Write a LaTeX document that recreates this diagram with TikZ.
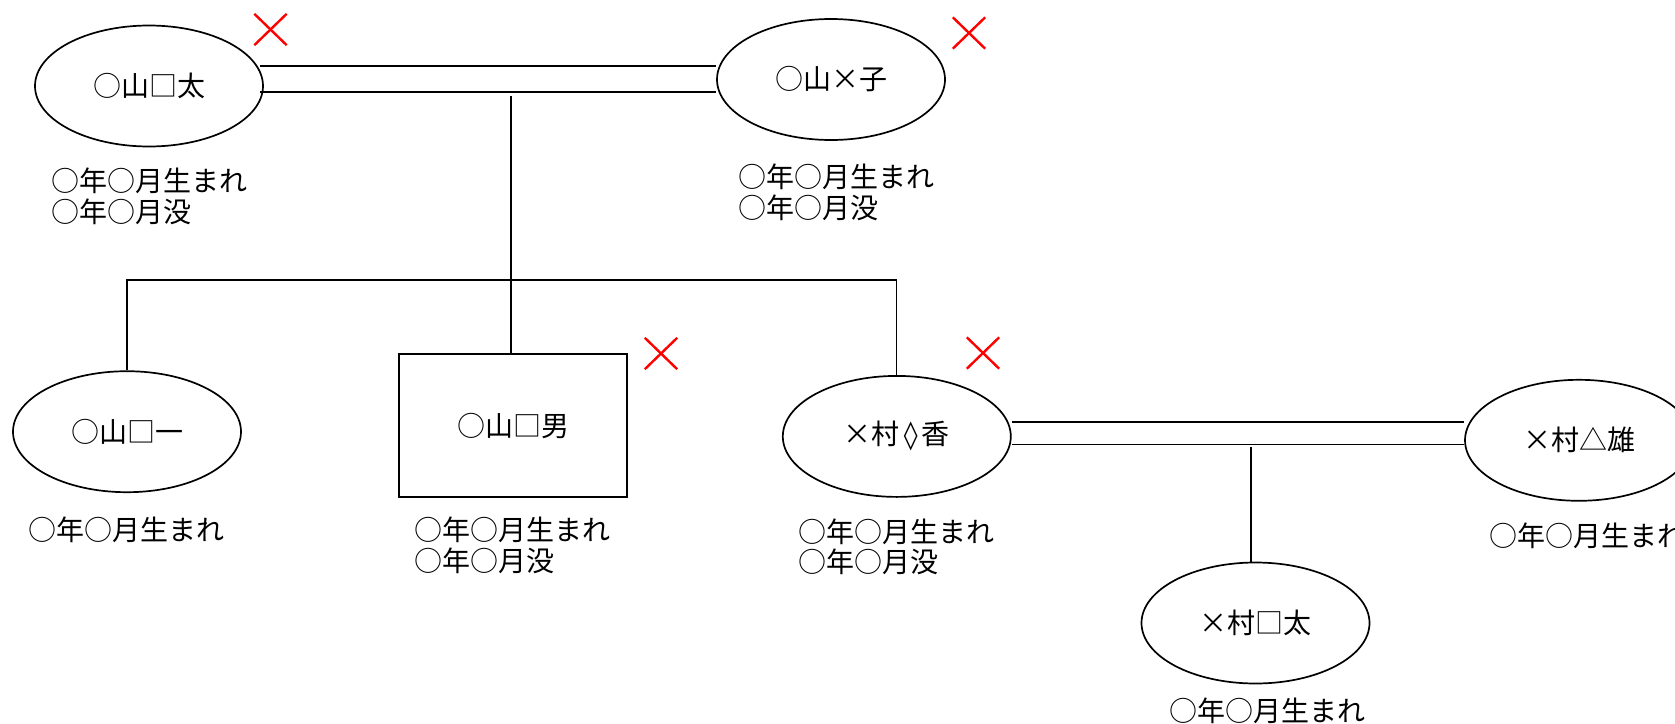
\documentclass[tikz,border=0pt]{standalone}
\usepackage{fontspec}
\setmainfont{Noto Sans CJK JP}
\newfontfamily\lozfont{DejaVu Sans}
\usetikzlibrary{shapes.geometric,shapes.misc,calc}
\tikzset{
  txt/.style={font=\fontsize{14}{15.25}\selectfont},
  person/.style={ellipse, draw, line width=0.85pt, minimum width=114pt, minimum height=60.5pt, inner sep=0pt, txt},
  malebox/.style={rectangle, draw, line width=0.85pt, minimum width=114.3pt, minimum height=71.3pt, inner sep=0pt, txt},
  info/.style={align=left, anchor=base west, inner sep=0pt, txt},
  link/.style={line width=0.55pt},
  dead/.style={cross out, draw=red, line width=1.2pt, minimum width=15pt, minimum height=14.5pt, inner sep=0pt},
}
\begin{document}
\begin{tikzpicture}[x=0.5pt, y=-0.5pt]
\useasboundingbox (0,0) rectangle (1675,723);
\clip (0,0) rectangle (1675,723);
% persons
\node[person] (E1) at (149,86) {○山□太};
\node[person] (E2) at (831,79.5) {○山×子};
\node[person] (E3) at (127,431.7) {○山□一};
\node[malebox] (B1) at (513,425.5) {○山□男};
\node[person] (E4) at (896.8,436.4) {×村\hspace{2pt}{\lozfont ◊}\hspace{2pt}香};
\node[person] (E5) at (1579,440.3) {×村△雄};
\node[person] (E6) at (1255.5,623) {×村□太};
% death marks
\node[dead] (X1) at (270.5,29.5) {};
\node[dead] (X2) at (969,33) {};
\node[dead] (X3) at (661,353.5) {};
\node[dead] (X4) at (983,353) {};
% info texts (base anchor = baseline of last line)
\node[info] (T1) at (51,222) {○年○月生まれ\\○年○月没};
\node[info] (T2) at (738,218) {○年○月生まれ\\○年○月没};
\node[info] (T3) at (28,540.5) {○年○月生まれ};
\node[info] (T4) at (414,571) {○年○月生まれ\\○年○月没};
\node[info] (T5) at (798,572.5) {○年○月生まれ\\○年○月没};
\node[info] (T6) at (1489,546) {○年○月生まれ};
\node[info] (T7) at (1169,721) {○年○月生まれ};
% marriage 1
\coordinate (m1t) at (500,66);
\coordinate (m1b) at (500,92);
\draw[link] ($(E1.east |- m1t)+(-4,0)$) -- (E2.west |- m1t);
\draw[link] ($(E1.east |- m1b)+(-4,0)$) -- (E2.west |- m1b);
\coordinate (c1) at (511,96);
\coordinate (bar) at (511,280);
\draw[link] (c1) -- (c1 |- B1.north);
\draw[link] (E3.north) -- (E3.north |- bar) -- (E4.north |- bar) -- (E4.north);
% marriage 2
\coordinate (m2t) at (1250,422);
\coordinate (m2b) at (1250,444.4);
\draw[link] (E4.east |- m2t) -- (E5.west |- m2t);
\draw[link] (E4.east |- m2b) -- (E5.west |- m2b);
\coordinate (c2) at (1251,446.7);
\draw[link] (c2) -- (c2 |- E6.north);
\end{tikzpicture}
\end{document}
